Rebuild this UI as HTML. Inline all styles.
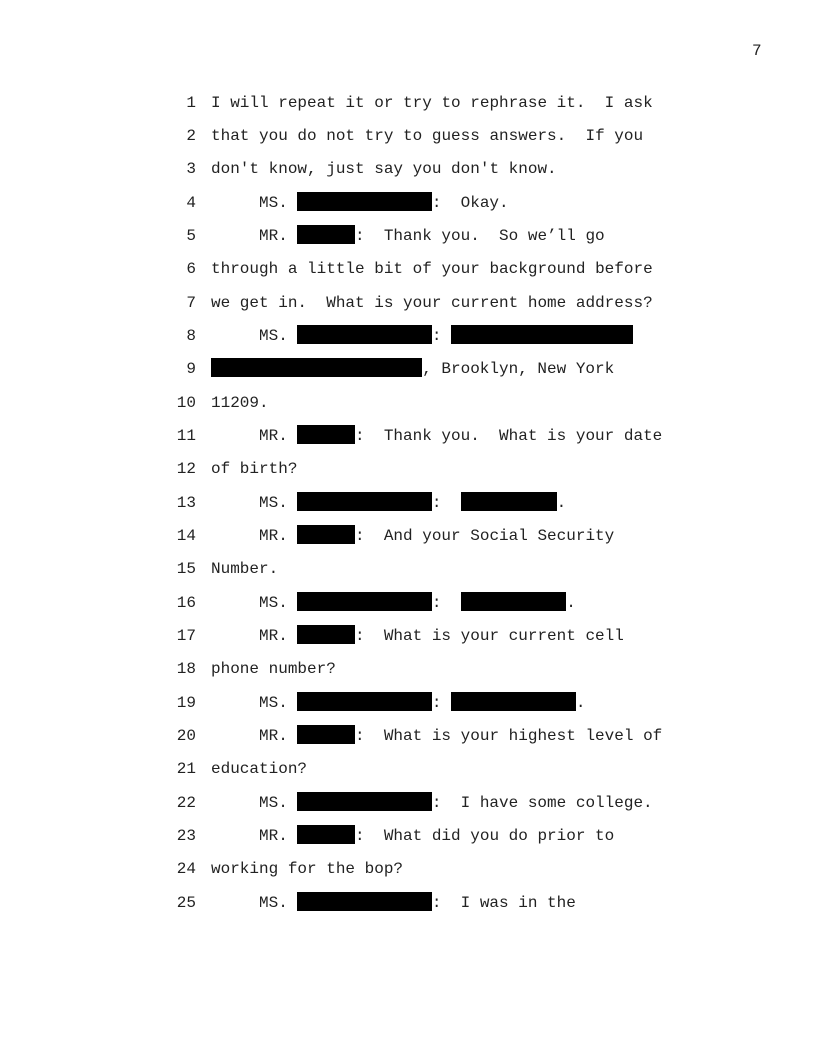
<!DOCTYPE html>
<html><head><style>
body{margin:0;width:816px;height:1056px;background:#fff;position:relative;overflow:hidden;font-family:"Liberation Mono",monospace;font-size:16px;color:#222}
.pn{position:absolute;left:752px;top:42px}
.l{position:absolute;left:0;height:33.33px;line-height:33.33px;white-space:pre}
.n{position:absolute;right:620px;text-align:right}
.t{position:absolute;left:211px}
.b{display:inline-block;background:#000;height:19px;vertical-align:-4px}
</style></head><body>
<div class="pn">7</div>
<div class="l" style="top:86.5px;width:816px"><span class="n">1</span><span class="t">I will repeat it or try to rephrase it.  I ask</span></div>
<div class="l" style="top:119.8px;width:816px"><span class="n">2</span><span class="t">that you do not try to guess answers.  If you</span></div>
<div class="l" style="top:153.2px;width:816px"><span class="n">3</span><span class="t">don't know, just say you don't know.</span></div>
<div class="l" style="top:186.5px;width:816px"><span class="n">4</span><span class="t">     MS. <span class="b" style="width:134.4px"></span>:  Okay.</span></div>
<div class="l" style="top:219.8px;width:816px"><span class="n">5</span><span class="t">     MR. <span class="b" style="width:57.6px"></span>:  Thank you.  So we’ll go</span></div>
<div class="l" style="top:253.2px;width:816px"><span class="n">6</span><span class="t">through a little bit of your background before</span></div>
<div class="l" style="top:286.5px;width:816px"><span class="n">7</span><span class="t">we get in.  What is your current home address?</span></div>
<div class="l" style="top:319.8px;width:816px"><span class="n">8</span><span class="t">     MS. <span class="b" style="width:134.4px"></span>: <span class="b" style="width:182.4px"></span></span></div>
<div class="l" style="top:353.2px;width:816px"><span class="n">9</span><span class="t"><span class="b" style="width:211.2px"></span>, Brooklyn, New York</span></div>
<div class="l" style="top:386.5px;width:816px"><span class="n">10</span><span class="t">11209.</span></div>
<div class="l" style="top:419.8px;width:816px"><span class="n">11</span><span class="t">     MR. <span class="b" style="width:57.6px"></span>:  Thank you.  What is your date</span></div>
<div class="l" style="top:453.2px;width:816px"><span class="n">12</span><span class="t">of birth?</span></div>
<div class="l" style="top:486.5px;width:816px"><span class="n">13</span><span class="t">     MS. <span class="b" style="width:134.4px"></span>:  <span class="b" style="width:96px"></span>.</span></div>
<div class="l" style="top:519.8px;width:816px"><span class="n">14</span><span class="t">     MR. <span class="b" style="width:57.6px"></span>:  And your Social Security</span></div>
<div class="l" style="top:553.2px;width:816px"><span class="n">15</span><span class="t">Number.</span></div>
<div class="l" style="top:586.5px;width:816px"><span class="n">16</span><span class="t">     MS. <span class="b" style="width:134.4px"></span>:  <span class="b" style="width:105.6px"></span>.</span></div>
<div class="l" style="top:619.8px;width:816px"><span class="n">17</span><span class="t">     MR. <span class="b" style="width:57.6px"></span>:  What is your current cell</span></div>
<div class="l" style="top:653.2px;width:816px"><span class="n">18</span><span class="t">phone number?</span></div>
<div class="l" style="top:686.5px;width:816px"><span class="n">19</span><span class="t">     MS. <span class="b" style="width:134.4px"></span>: <span class="b" style="width:124.8px"></span>.</span></div>
<div class="l" style="top:719.8px;width:816px"><span class="n">20</span><span class="t">     MR. <span class="b" style="width:57.6px"></span>:  What is your highest level of</span></div>
<div class="l" style="top:753.2px;width:816px"><span class="n">21</span><span class="t">education?</span></div>
<div class="l" style="top:786.5px;width:816px"><span class="n">22</span><span class="t">     MS. <span class="b" style="width:134.4px"></span>:  I have some college.</span></div>
<div class="l" style="top:819.8px;width:816px"><span class="n">23</span><span class="t">     MR. <span class="b" style="width:57.6px"></span>:  What did you do prior to</span></div>
<div class="l" style="top:853.2px;width:816px"><span class="n">24</span><span class="t">working for the bop?</span></div>
<div class="l" style="top:886.5px;width:816px"><span class="n">25</span><span class="t">     MS. <span class="b" style="width:134.4px"></span>:  I was in the</span></div>
</body></html>
